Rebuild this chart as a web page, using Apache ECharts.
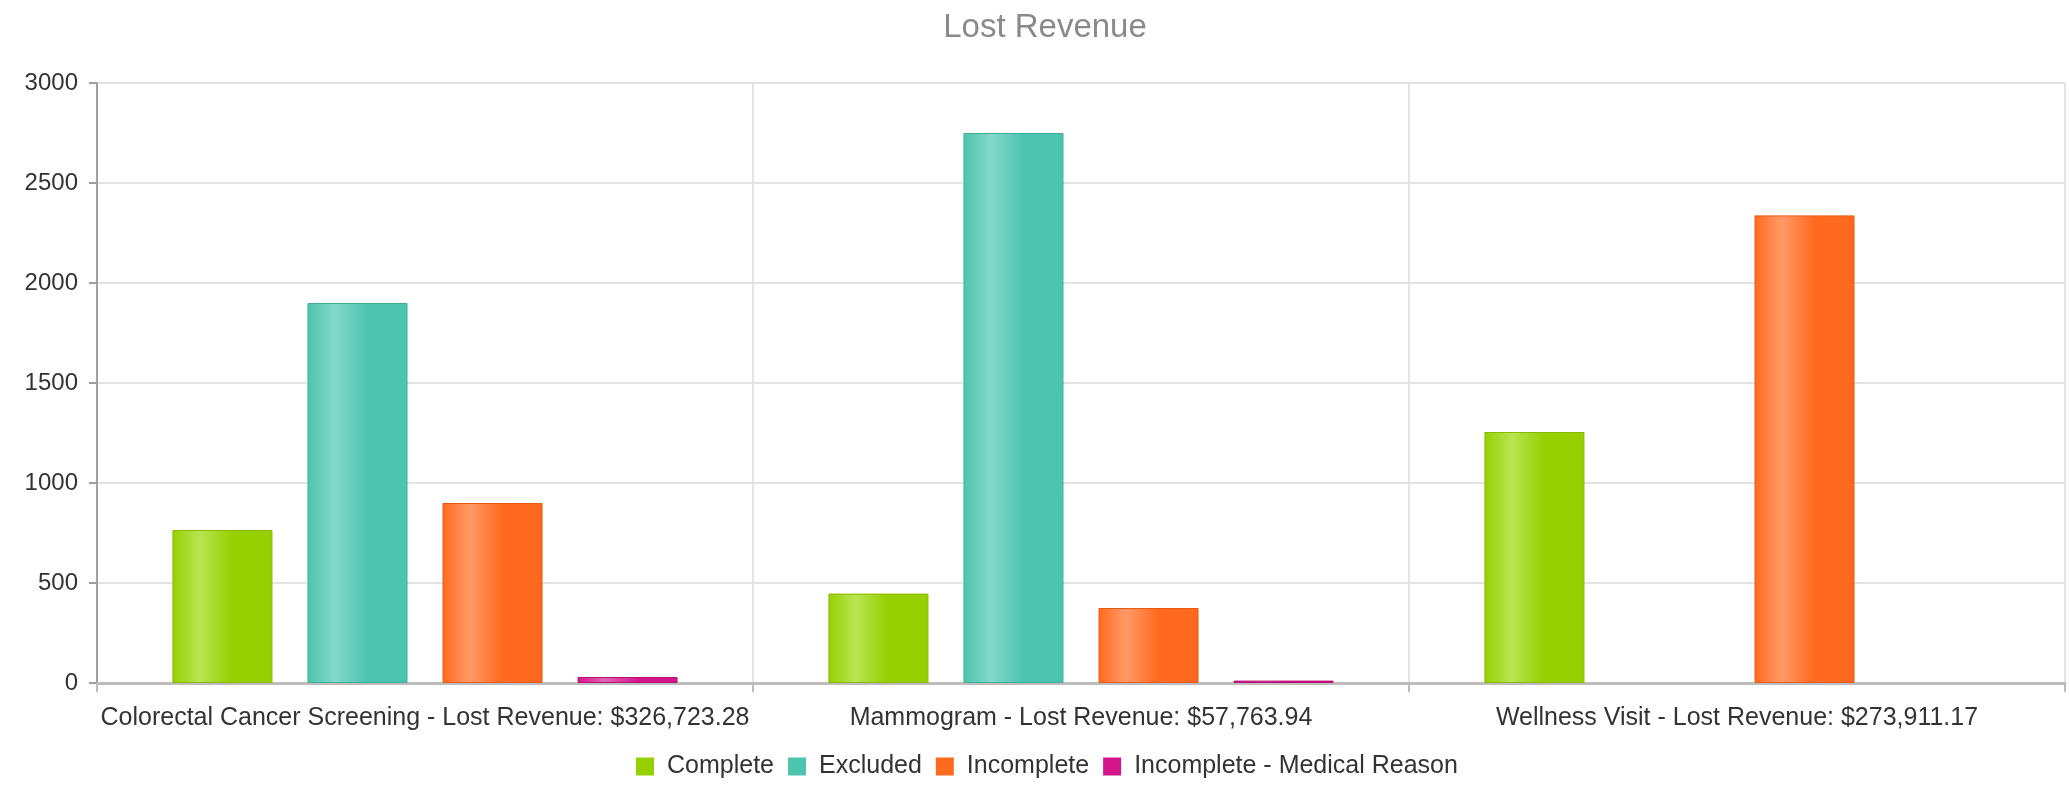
<!DOCTYPE html>
<html>
<head>
<meta charset="utf-8">
<title>Lost Revenue</title>
<script src="https://cdn.jsdelivr.net/npm/echarts@6/dist/echarts.min.js"></script>
<style>
  html, body { margin: 0; padding: 0; background: #fff; }
  #chart { width: 2069px; height: 787px; }
</style>
</head>
<body>
<div id="chart"></div>
<script>
// values
const categories = [
  'Colorectal Cancer Screening - Lost Revenue: $326,723.28',
  'Mammogram - Lost Revenue: $57,763.94',
  'Wellness Visit - Lost Revenue: $273,911.17'
];
const seriesNames = ['Complete', 'Excluded', 'Incomplete', 'Incomplete - Medical Reason'];
const complete = [765, 447, 1255];
const excluded = [1900, 2750, null];
const incomplete = [900, 375, 2338];
const medicalReason = [30, 12, null];

// base colour + lighter highlight for the "tube" gradient
const palette = [
  { base: '#96d000', light: '#b9e552', border: '#86bb00' },
  { base: '#4cc4ae', light: '#85d9c8', border: '#3fae99' },
  { base: '#ff6a1f', light: '#ff9a66', border: '#e85a12' },
  { base: '#d3168a', light: '#e464b2', border: '#b80f77' }
];
const FONT = 'Liberation Sans, Arial, sans-serif';

const tube = c => new echarts.graphic.LinearGradient(0, 0, 1, 0, [
  { offset: 0, color: c.base },
  { offset: 0.27, color: c.light },
  { offset: 0.6, color: c.base },
  { offset: 1, color: c.base }
]);

const makeSeries = (name, data, c) => ({
  name,
  type: 'bar',
  data,
  barCategoryGap: '23%',
  barGap: '35%',
  itemStyle: { color: tube(c), borderColor: c.border, borderWidth: 1 },
  emphasis: { disabled: true }
});

const chart = echarts.init(document.getElementById('chart'));

const option = {
  backgroundColor: '#fff',
  animation: false,
  title: {
    text: 'Lost Revenue',
    left: 1045,
    textAlign: 'center',
    top: 11,
    padding: 0,
    textStyle: { color: '#8a8a8a', fontSize: 33, fontWeight: 'normal', fontFamily: FONT }
  },
  legend: {
    data: seriesNames.map((name, i) => ({
      name,
      itemStyle: { color: palette[i].base, borderWidth: 0 }
    })),
    left: 636,
    top: 754,
    padding: 0,
    itemWidth: 18,
    itemHeight: 18,
    itemGap: 14,
    icon: 'rect',
    textStyle: { color: '#333', fontSize: 25, fontFamily: FONT, padding: [0, 0, 0, 8] }
  },
  grid: { left: 97, right: 4, top: 83, bottom: 104, outerBoundsMode: 'none' },
  xAxis: {
    type: 'category',
    data: categories,
    axisLine: { lineStyle: { color: '#bdbdbd', width: 3 } },
    axisTick: { show: true, length: 9, lineStyle: { color: '#bdbdbd', width: 2 } },
    axisLabel: { color: '#333', fontSize: 25, margin: 23, interval: 0, hideOverlap: false, fontFamily: FONT },
    splitLine: { show: true, lineStyle: { color: '#e3e3e3', width: 2 } }
  },
  yAxis: {
    type: 'value',
    min: 0,
    max: 3000,
    interval: 500,
    axisLine: { show: true, lineStyle: { color: '#a0a0a0', width: 2 } },
    axisTick: { show: true, length: 8, lineStyle: { color: '#a0a0a0', width: 2 } },
    axisLabel: { color: '#333', fontSize: 24, margin: 19, fontFamily: FONT, formatter: v => String(v) },
    splitLine: { show: true, lineStyle: { color: '#e3e3e3', width: 2 } }
  },
  series: [
    makeSeries(seriesNames[0], complete, palette[0]),
    makeSeries(seriesNames[1], excluded, palette[1]),
    makeSeries(seriesNames[2], incomplete, palette[2]),
    makeSeries(seriesNames[3], medicalReason, palette[3])
  ]
};

chart.setOption(option);
</script>
</body>
</html>
